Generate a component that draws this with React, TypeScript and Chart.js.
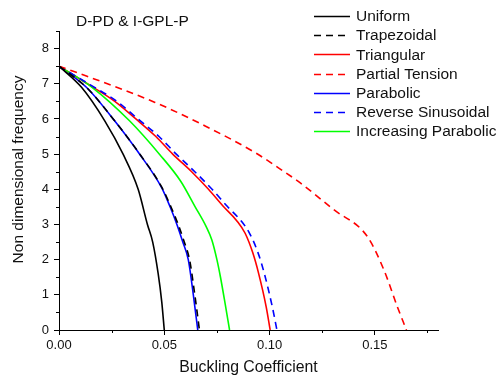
import React, { useEffect, useRef } from "react";
import { Chart, registerables } from "chart.js";

Chart.register(...registerables);

const seriesNames = [
  "Uniform",
  "Trapezoidal",
  "Triangular",
  "Partial Tension",
  "Parabolic",
  "Reverse Sinusoidal",
  "Increasing Parabolic",
];

// Buckling coefficient (x) and non dimensional frequency (y) per series
const uniformX = [0, 0.0107, 0.0218, 0.0305, 0.0376, 0.042, 0.0445, 0.0471, 0.0488, 0.05];
const uniformY = [7.5, 6.9, 5.94, 4.99, 4.0, 3.0, 2.5, 1.6, 0.8, 0];

const trapezoidalX = [0, 0.013, 0.0265, 0.0385, 0.049, 0.0531, 0.0566, 0.0595, 0.062, 0.0645, 0.0667];
const trapezoidalY = [7.5, 6.9, 5.94, 4.99, 4.04, 3.51, 3.0, 2.5, 2.0, 1.0, 0];

const triangularX = [0, 0.0135, 0.0265, 0.0365, 0.046, 0.054, 0.063, 0.071, 0.0781, 0.0845, 0.0884, 0.092, 0.0948, 0.0984, 0.1003];
const triangularY = [7.5, 7.0, 6.5, 6.0, 5.5, 5.0, 4.5, 4.0, 3.51, 3.1, 2.75, 2.2, 1.61, 0.66, 0];

const partialX = [0, 0.013, 0.0456, 0.0694, 0.0932, 0.1067, 0.1146, 0.1305, 0.1464, 0.1543, 0.1607, 0.165];
const partialY = [7.5, 7.22, 6.47, 5.8, 5.04, 4.51, 4.18, 3.42, 2.66, 1.71, 0.66, 0];

const parabolicX = [0, 0.013, 0.0265, 0.0384, 0.0488, 0.0527, 0.056, 0.0588, 0.0614, 0.0638, 0.0659];
const parabolicY = [7.5, 6.9, 5.94, 4.99, 4.04, 3.51, 3.0, 2.5, 2.0, 1.0, 0];

const reverseX = [0, 0.014, 0.0275, 0.0375, 0.0475, 0.0557, 0.0645, 0.0727, 0.08, 0.0865, 0.0905, 0.0945, 0.0975, 0.1013, 0.1035];
const reverseY = [7.5, 7.0, 6.5, 6.0, 5.5, 5.0, 4.5, 4.0, 3.51, 3.1, 2.75, 2.2, 1.61, 0.66, 0];

const increasingX = [0, 0.0157, 0.0336, 0.0478, 0.0578, 0.0646, 0.0699, 0.0726, 0.075, 0.0767, 0.0789, 0.081];
const increasingY = [7.5, 6.9, 5.94, 4.99, 4.23, 3.51, 2.94, 2.56, 2.0, 1.5, 0.75, 0];

const xMajorTicks = [0, 0.05, 0.1, 0.15];
const xMinorTicks = [0.025, 0.075, 0.125, 0.175];
const yMinorTicks = [0.5, 1.5, 2.5, 3.5, 4.5, 5.5, 6.5, 7.5, 8.5];

const chartTitle = "D-PD & I-GPL-P";
const xTitle = "Buckling Coefficient";
const yTitle = "Non dimensional frequency";

const FONT = "'Liberation Sans', Arial, sans-serif";

function pts(xs: number[], ys: number[]) {
  return xs.map((x, i) => ({ x, y: ys[i] }));
}

const minorTicksPlugin = {
  id: "minorTicks",
  afterDraw(chart: any) {
    const ctx = chart.ctx;
    const xs = chart.scales.x;
    const ys = chart.scales.y;
    const area = chart.chartArea;
    ctx.save();
    ctx.strokeStyle = "#000";
    ctx.lineWidth = 1;
    ctx.beginPath();
    xMinorTicks.forEach((v) => {
      const px = Math.round(xs.getPixelForValue(v)) + 0.5;
      ctx.moveTo(px, area.bottom);
      ctx.lineTo(px, area.bottom + 3);
    });
    yMinorTicks.forEach((v) => {
      const py = Math.round(ys.getPixelForValue(v)) + 0.5;
      ctx.moveTo(area.left, py);
      ctx.lineTo(area.left - 3, py);
    });
    ctx.stroke();
    ctx.restore();
  },
};

const titleLegendPlugin = {
  id: "titleLegend",
  afterDraw(chart: any) {
    const ctx = chart.ctx;
    const area = chart.chartArea;
    ctx.save();
    ctx.fillStyle = "#111";
    ctx.font = `15.5px ${FONT}`;
    ctx.textBaseline = "middle";
    ctx.textAlign = "left";
    ctx.fillText(chartTitle, area.left + 17, area.top - 9);

    // y axis title
    ctx.save();
    ctx.translate(19, (area.top + area.bottom) / 2 - 11);
    ctx.rotate(-Math.PI / 2);
    ctx.textAlign = "center";
    ctx.font = `15.5px ${FONT}`;
    ctx.fillText(yTitle, 0, 0);
    ctx.restore();

    const lx0 = area.right - 124;
    const lx1 = lx0 + 36;
    const tx = lx1 + 6;
    chart.data.datasets.forEach((ds: any, i: number) => {
      const yy = 16 + i * 19.2;
      ctx.beginPath();
      ctx.strokeStyle = ds.borderColor;
      ctx.lineWidth = 1.6;
      ctx.setLineDash(ds.borderDash || []);
      ctx.moveTo(lx0, Math.round(yy) + 0.5);
      ctx.lineTo(lx1, Math.round(yy) + 0.5);
      ctx.stroke();
      ctx.setLineDash([]);
      ctx.fillStyle = "#111";
      ctx.font = `15.5px ${FONT}`;
      ctx.fillText(ds.label, tx, yy + 1);
    });
    ctx.restore();
  },
};

export default function App() {
  const ref = useRef<HTMLCanvasElement | null>(null);

  useEffect(() => {
    document.body.style.margin = "0";
    if (!ref.current) return;
    const common = {
      pointRadius: 0,
      borderWidth: 1.6,
      fill: false,
      cubicInterpolationMode: "monotone" as const,
    };
    const chart = new Chart(ref.current, {
      type: "line",
      data: {
        datasets: [
          { ...common, label: seriesNames[0], data: pts(uniformX, uniformY), borderColor: "#000000" },
          { ...common, label: seriesNames[1], data: pts(trapezoidalX, trapezoidalY), borderColor: "#000000", borderDash: [7, 5] },
          { ...common, label: seriesNames[2], data: pts(triangularX, triangularY), borderColor: "#FF0000", order: 1 },
          { ...common, label: seriesNames[3], data: pts(partialX, partialY), borderColor: "#FF0000", borderDash: [7, 5] },
          { ...common, label: seriesNames[4], data: pts(parabolicX, parabolicY), borderColor: "#0000FF", order: 1 },
          { ...common, label: seriesNames[5], data: pts(reverseX, reverseY), borderColor: "#0000FF", borderDash: [7, 5], order: 0 },
          { ...common, label: seriesNames[6], data: pts(increasingX, increasingY), borderColor: "#00FF00" },
        ],
      },
      options: {
        animation: false,
        responsive: false,
        layout: { padding: { left: 0, top: 31, right: 60, bottom: 0 } },
        plugins: { legend: { display: false }, tooltip: { enabled: false }, title: { display: false } },
        scales: {
          x: {
            type: "linear",
            min: 0,
            max: 0.18,
            afterFit(scale: any) {
              scale.height = 51;
            },
            afterBuildTicks(scale: any) {
              scale.ticks = xMajorTicks.map((v) => ({ value: v }));
            },
            ticks: {
              font: { family: FONT, size: 13 },
              color: "#111",
              padding: 3,
              maxRotation: 0,
              callback: (v: any) => Number(v).toFixed(2),
            },
            grid: { drawOnChartArea: false, drawTicks: true, tickLength: 5, tickColor: "#000" },
            border: { display: true, color: "#000", width: 1 },
            title: {
              display: true,
              text: xTitle,
              font: { family: FONT, size: 15.8 },
              color: "#111",
              padding: { top: 0, bottom: 4 },
            },
          },
          y: {
            type: "linear",
            min: 0,
            max: 8.5,
            afterFit(scale: any) {
              scale.width = 59;
            },
            ticks: {
              stepSize: 1,
              includeBounds: false,
              font: { family: FONT, size: 13 },
              color: "#111",
              padding: 5,
            },
            grid: { drawOnChartArea: false, drawTicks: true, tickLength: 5, tickColor: "#000" },
            border: { display: true, color: "#000", width: 1 },
            title: { display: false },
          },
        },
      },
      plugins: [minorTicksPlugin, titleLegendPlugin],
    } as any);
    return () => chart.destroy();
  }, []);

  return (
    <div style={{ width: 498, height: 381 }}>
      <canvas ref={ref} width={498} height={381} style={{ display: "block" }} />
    </div>
  );
}
